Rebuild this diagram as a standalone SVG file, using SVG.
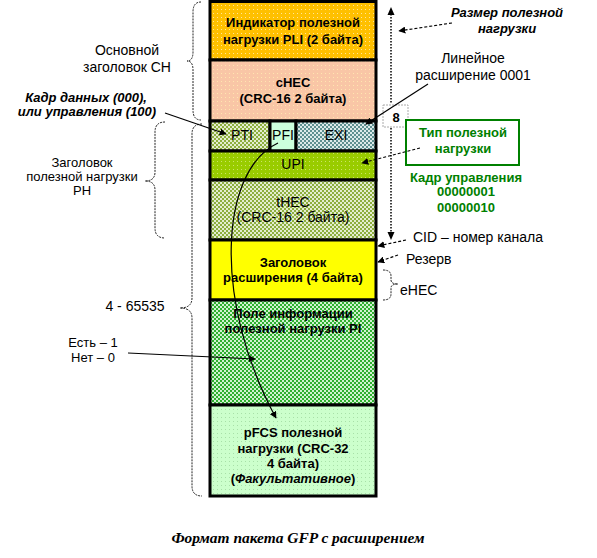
<svg xmlns="http://www.w3.org/2000/svg" width="597" height="558" viewBox="0 0 597 558">
<style>
.t{font-family:"Liberation Sans",Arial,sans-serif;font-size:13px;fill:#000;text-anchor:middle}
.s{text-anchor:start}
.b{font-weight:bold}
.i{font-style:italic}
.f14{font-size:14px}
.g{fill:#008000;font-weight:bold}
.cell{stroke:#000;stroke-width:3}
.brace{fill:none;stroke:#222;stroke-width:1;stroke-dasharray:2,1}
.da{fill:none;stroke:#000;stroke-width:1.2;stroke-dasharray:3,2;marker-end:url(#ah)}
.sa{fill:none;stroke:#000;stroke-width:1.2;marker-end:url(#ah)}
</style>
<defs>
<marker id="ah" viewBox="0 0 10 10" refX="9" refY="5" markerWidth="7" markerHeight="7" markerUnits="userSpaceOnUse" orient="auto"><path d="M0,0 L10,5 L0,10 z" fill="#000"/></marker>
<pattern id="pOr" width="4" height="4" patternUnits="userSpaceOnUse"><rect width="4" height="4" fill="#FFC000"/><rect x="1" y="1" width="1" height="1" fill="#FFE699"/></pattern>
<pattern id="pPe" width="4" height="4" patternUnits="userSpaceOnUse"><rect width="4" height="4" fill="#F9C6A6"/><rect x="1" y="1" width="1" height="1" fill="#FFE6B0"/></pattern>
<pattern id="pOl" width="4" height="4" patternUnits="userSpaceOnUse"><rect width="4" height="4" fill="#E4EDCF"/><rect width="2" height="2" fill="#8DAE3E"/><rect x="2" y="2" width="2" height="2" fill="#8DAE3E"/></pattern>
<pattern id="pTe" width="4" height="4" patternUnits="userSpaceOnUse"><rect width="4" height="4" fill="#DCEAEA"/><rect width="2" height="2" fill="#5E9090"/><rect x="2" y="2" width="2" height="2" fill="#5E9090"/></pattern>
<pattern id="pUp" width="4" height="4" patternUnits="userSpaceOnUse"><rect width="4" height="4" fill="#99CC00"/><rect x="1" y="1" width="1" height="1" fill="#CCE666"/></pattern>
<pattern id="pGr" width="4" height="4" patternUnits="userSpaceOnUse"><rect width="4" height="4" fill="#D0F2D0"/><rect width="2" height="2" fill="#2FAF2F"/><rect x="2" y="2" width="2" height="2" fill="#2FAF2F"/></pattern>
<pattern id="pMi" width="4" height="4" patternUnits="userSpaceOnUse"><rect width="4" height="4" fill="#CCFFCC"/><rect x="1" y="1" width="1" height="1" fill="#A8E0A8"/></pattern>
</defs>

<g id="pli"><rect class="cell" x="210" y="1.5" width="166" height="58.5" fill="url(#pOr)"/>
<text class="t b" x="293" y="27">Индикатор полезной</text><text class="t b" x="293" y="44">нагрузки PLI (2 байта)</text></g>
<g id="chec"><rect class="cell" x="210" y="60" width="166" height="61" fill="url(#pPe)"/>
<text class="t b" x="293" y="87">cHEC</text><text class="t b" x="293" y="103">(CRC-16 2 байта)</text></g>
<g id="pti"><rect class="cell" x="210" y="121" width="60" height="30" fill="url(#pOl)"/><text class="t f14" x="242" y="140">PTI</text></g>
<g id="pfi"><rect class="cell" x="270" y="121" width="26" height="30" fill="#CCFFDD"/><text class="t f14" x="283" y="140" fill="#400">PFI</text></g>
<g id="exi"><rect class="cell" x="296" y="121" width="80" height="30" fill="url(#pTe)"/><text class="t f14" x="336" y="140">EXI</text></g>
<g id="upi"><rect class="cell" x="210" y="151" width="166" height="29" fill="url(#pUp)"/><text class="t f14" x="293" y="169">UPI</text></g>
<g id="thec"><rect class="cell" x="210" y="180" width="166" height="60" fill="url(#pOl)"/>
<text class="t f14" x="293" y="207">tHEC</text><text class="t f14" x="293" y="222">(CRC-16 2 байта)</text></g>
<g id="ext"><rect class="cell" x="210" y="240" width="166" height="60" fill="#FFFF00"/>
<text class="t b" x="293" y="267">Заголовок</text><text class="t b" x="293" y="282">расширения (4 байта)</text></g>
<g id="pi"><rect class="cell" x="210" y="300" width="166" height="105" fill="url(#pGr)"/>
<text class="t b" x="293" y="318">Поле информации</text><text class="t b" x="293" y="333">полезной нагрузки PI</text></g>
<g id="pfcs"><rect class="cell" x="210" y="405" width="166" height="91" fill="url(#pMi)"/>
<text class="t b" x="293" y="437">pFCS полезной</text><text class="t b" x="293" y="453">нагрузки (CRC-32</text><text class="t b" x="293" y="468">4 байта)</text><text class="t b" x="293" y="483">(<tspan class="i">Факультативное</tspan>)</text></g>

<g id="labels-left">
<text class="t f14" x="127" y="55">Основной</text><text class="t f14" x="127" y="72">заголовок CH</text>
<text class="t b i" x="86" y="102">Кадр данных (000),</text><text class="t b i" x="87" y="116">или управления (100)</text>
<text class="t" x="82" y="167">Заголовок</text><text class="t" x="82" y="181">полезной нагрузки</text><text class="t" x="82" y="195">PH</text>
<text class="t f14" x="135" y="311">4 - 65535</text>
<text class="t" x="93" y="347">Есть – 1</text><text class="t" x="93" y="362">Нет – 0</text>
</g>

<g id="labels-right">
<text class="t b i" x="507" y="17">Размер полезной</text><text class="t b i" x="507" y="33">нагрузки</text>
<text class="t f14" x="473" y="63">Линейное</text><text class="t f14" x="473" y="80">расширение 0001</text>
<g id="n8"><rect x="383" y="105" width="25" height="22" fill="#fff" stroke="#aaa" stroke-width="1" stroke-dasharray="2,1"/><text class="t b" x="396" y="122" fill="#000060">8</text></g>
<g id="tip"><rect x="406" y="120" width="113" height="45" fill="#fff" stroke="#008000" stroke-width="2"/>
<text class="t g" x="463" y="137">Тип полезной</text><text class="t g" x="463" y="153">нагрузки</text></g>
<text class="t g" x="466" y="182">Кадр управления</text><text class="t g" x="466" y="196">00000001</text><text class="t g" x="466" y="212">00000010</text>
<text class="t s f14" x="413" y="242">CID – номер канала</text>
<text class="t s f14" x="406" y="264">Резерв</text>
<text class="t s f14" x="400" y="295">eHEC</text>
</g>

<g id="connectors">
<path class="brace" d="M201,2 Q193,2 193,12 L193,52 Q193,61 187,61 Q193,61 193,70 L193,110 Q193,120 201,120"/>
<path class="brace" d="M165,122 Q155,122 155,132 L155,172 Q155,181 145,181 Q155,181 155,190 L155,228 Q155,238 165,238"/>
<path class="brace" d="M202,124 Q192,124 192,134 L192,298 Q192,308 180,308 Q192,308 192,318 L192,486 Q192,496 202,496"/>
<path class="brace" d="M383,270 Q391,270 391,276 L391,280 Q391,284 398,284 Q391,284 391,288 L391,294 Q391,300 383,300"/>
<path d="M391,14 L391,104 M391,128 L391,233" fill="none" stroke="#000" stroke-width="1.5" stroke-dasharray="1.5,1.5"/>
<path d="M391,7 L387.5,15 L394.5,15 z M391,240 L387.5,232 L394.5,232 z" fill="#000"/>
<path class="sa" d="M165,113 L226,134"/>
<path class="sa" d="M128,353 L255,359"/>
<path class="sa" d="M278,143 C220,170 212,300 276,418"/>
<path class="da" d="M452,23 L399,31"/>
<path class="sa" d="M428,84 L366,124"/>
<path class="da" d="M420,148 L362,163"/>
<path class="da" d="M406,240 L378,246"/>
<path class="da" d="M398,255 L378,262"/>
</g>

<text id="caption" x="298" y="543" font-family="'Liberation Serif','Times New Roman',serif" font-size="14" font-weight="bold" font-style="italic" text-anchor="middle" textLength="253" lengthAdjust="spacingAndGlyphs">Формат пакета GFP с расширением</text>
</svg>
